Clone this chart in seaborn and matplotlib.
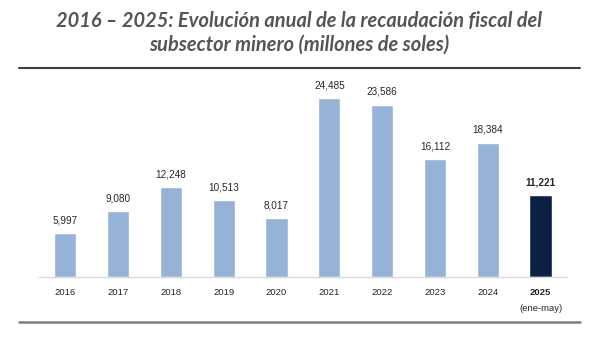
import matplotlib
matplotlib.use("Agg")
import matplotlib.pyplot as plt
import seaborn as sns
import pandas as pd
from matplotlib.lines import Line2D

years = ["2016", "2017", "2018", "2019", "2020", "2021", "2022", "2023", "2024", "2025"]
last_note = "(ene-may)"
values = [5997, 9080, 12248, 10513, 8017, 24485, 23586, 16112, 18384, 11221]
value_labels = ["5,997", "9,080", "12,248", "10,513", "8,017", "24,485", "23,586", "16,112", "18,384", "11,221"]
colors = ["#95b3d7"] * 9 + ["#0c1f44"]

sns.set_theme(style="white")
plt.rcParams["font.family"] = ["Liberation Sans", "DejaVu Sans"]

df = pd.DataFrame({"year": years, "value": values})

fig = plt.figure(figsize=(5.97, 3.42), dpi=100)
ax = fig.add_axes([0.0653, 0.19, 0.8844, 0.5985])
sns.barplot(data=df, x="year", y="value", hue="year", palette=colors, legend=False,
            width=0.42, ax=ax, saturation=1)

ax.set_ylim(0, 28000)
ax.set_xlim(-0.5, len(years) - 0.5)
ax.set_xlabel("")
ax.set_ylabel("")
ax.set_yticks([])
for s in ["top", "right", "left"]:
    ax.spines[s].set_visible(False)
ax.spines["bottom"].set_color("#d9d9d9")
ax.spines["bottom"].set_linewidth(1.0)

ax.set_xticks(range(len(years)))
ax.set_xticklabels(years)
ax.tick_params(axis="x", which="major", length=0, pad=8, labelsize=6.8, labelcolor="#262626")
ax.set_xticks([i - 0.5 for i in range(len(years) + 1)], minor=True)
ax.tick_params(axis="x", which="minor", length=4, width=0.8, color="#d9d9d9", direction="out")
ax.get_xticklabels()[-1].set_fontweight("bold")
ax.text(len(years) - 1, -0.153, last_note, transform=ax.get_xaxis_transform(), ha="center", va="center",
        fontsize=6.8, color="#262626")

for i, (v, t) in enumerate(zip(values, value_labels)):
    ax.annotate(t, (i, v), xytext=(0, 5.5), textcoords="offset points", ha="center", va="bottom",
                fontsize=7.2, color="#262626", fontweight="bold" if i == len(values) - 1 else "normal")

title_kw = dict(ha="center", va="center", fontsize=14.4, fontweight="bold", fontstyle="italic",
                color="#555555", family=["Lato", "DejaVu Sans"])
fig.text(0.501, 0.938, "2016 – 2025: Evolución anual de la recaudación fiscal del", **title_kw)
fig.text(0.501, 0.868, "subsector minero (millones de soles)", **title_kw)

fig.add_artist(Line2D([0.032, 0.9715], [0.801, 0.801], transform=fig.transFigure, color="#404040", linewidth=1.5))
fig.add_artist(Line2D([0.032, 0.9715], [0.058, 0.058], transform=fig.transFigure, color="#7f7f7f", linewidth=1.8))

fig.savefig("out.png", dpi=100, facecolor="white")
